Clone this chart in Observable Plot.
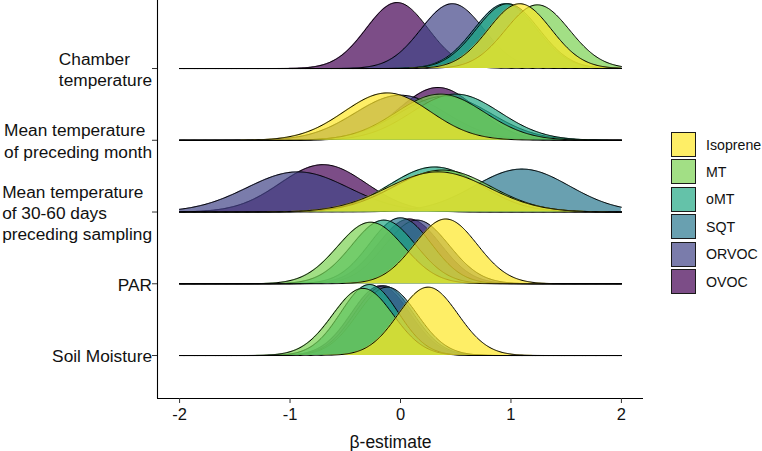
<!DOCTYPE html>
<html><head><meta charset="utf-8">
<script src="https://cdn.jsdelivr.net/npm/d3@7"></script>
<script src="https://cdn.jsdelivr.net/npm/@observablehq/plot@0.6"></script>
<style>
body{margin:0;background:#fff;}
#wrap{position:relative;width:762px;height:451px;font-family:"Liberation Sans",Arial,Helvetica,sans-serif;color:#000;}
#legend{position:absolute;left:671px;top:132px;}
.item{position:absolute;left:0;height:25px;display:flex;align-items:center;white-space:nowrap;}
.sw{width:25px;height:25px;border:1.5px solid #1a1a1a;box-sizing:border-box;}
.lb{margin-left:10px;font-size:14.2px;color:#111;}
</style></head>
<body><div id="wrap"></div>
<script>
// ---- data ----
const predictors = ["Chamber temperature", "Mean temperature of preceding month", "Mean temperature of 30-60 days preceding sampling", "PAR", "Soil Moisture"];
const predictorLabels = ["Chamber\ntemperature", "Mean temperature\nof preceding month", "Mean temperature\nof 30-60 days\npreceding sampling", "PAR", "Soil Moisture"];
const compounds = ["Isoprene", "MT", "oMT", "SQT", "ORVOC", "OVOC"];
const compoundColors = ["#FDE725", "#7AD151", "#22A884", "#2A788E", "#414487", "#440154"];
// posterior β-estimate (mean, sd) per predictor, in predictor order
const isopreneMean = [1.08, -0.12, 0.34, 0.41, 0.25];
const isopreneSd   = [0.285, 0.39, 0.46, 0.285, 0.27];
const mtMean       = [1.24, 0.36, 0.38, -0.27, -0.34];
const mtSd         = [0.29, 0.40, 0.44, 0.30, 0.275];
const omtMean      = [0.97, 0.50, 0.31, -0.15, -0.28];
const omtSd        = [0.285, 0.40, 0.41, 0.29, 0.26];
const sqtMean      = [0.95, 0.40, 1.10, 0.00, -0.12];
const sqtSd        = [0.285, 0.42, 0.43, 0.28, 0.27];
const orvocMean    = [0.47, 0.00, -0.93, 0.15, -0.15];
const orvocSd      = [0.285, 0.41, 0.46, 0.29, 0.265];
const ovocMean     = [-0.03, 0.34, -0.70, 0.08, -0.18];
const ovocSd       = [0.28, 0.35, 0.39, 0.285, 0.265];
const xTicks = [-2, -1, 0, 1, 2];
const xLabel = "β-estimate";

// ---- build table ----
const params = {
  Isoprene: [isopreneMean, isopreneSd], MT: [mtMean, mtSd], oMT: [omtMean, omtSd],
  SQT: [sqtMean, sqtSd], ORVOC: [orvocMean, orvocSd], OVOC: [ovocMean, ovocSd]
};
const rowPos = predictors.map((p, i) => predictors.length - i);
const grid = d3.range(-200, 201).map(k => k / 100);
const SCALE = 0.645; // rows per density unit
const table = [];
for (const c of compounds) {
  const [m, s] = params[c];
  predictors.forEach((p, i) => {
    for (const x of grid) {
      const dens = Math.exp(-0.5 * ((x - m[i]) / s[i]) ** 2) / (s[i] * Math.sqrt(2 * Math.PI));
      table.push({compound: c, predictor: p, row: rowPos[i], x, top: rowPos[i] + dens * SCALE});
    }
  });
}

const yDomain = [0.401, 5.948];
const xDomain = [-2.2, 2.2];
const marks = [];
for (const c of compounds.slice().reverse()) {
  const sub = table.filter(d => d.compound === c);
  marks.push(Plot.areaY(sub, {x: "x", y1: "row", y2: "top", z: "predictor", fill: "compound", fillOpacity: 0.7}));
  marks.push(Plot.lineY(sub, {x: "x", y: "top", z: "predictor", stroke: "#000", strokeWidth: 1}));
}
marks.push(Plot.ruleX([xDomain[0]], {stroke: "#000", strokeWidth: 1.1}));
marks.push(Plot.ruleY([yDomain[0]], {stroke: "#000", strokeWidth: 1.1}));
marks.push(Plot.axisY({ticks: rowPos, tickSize: 5, tickFormat: () => "", stroke: "#333"}));
marks.push(Plot.axisX({ticks: xTicks, tickSize: 5, tickPadding: 5, tickFormat: d => String(d), fontSize: 16.5, fill: "#111", stroke: "#333", label: null}));

const FS = 17.3;
const ctx = document.createElement("canvas").getContext("2d");
ctx.font = FS + 'px "Liberation Sans"';
predictorLabels.forEach((lab, i) => {
  const w = d3.max(lab.split("\n"), l => ctx.measureText(l).width);
  marks.push(Plot.text([i], {y: d => rowPos[d], text: d => predictorLabels[d], frameAnchor: "left", textAnchor: "start", lineAnchor: "middle", lineHeight: 1.22, fontSize: FS, fill: "#111", dx: -(w + 5.5)}));
});
marks.push(Plot.text([xLabel], {frameAnchor: "bottom", dy: 43.4, dx: -10, lineAnchor: "middle", fontSize: 17.5, fill: "#111"}));

const chart = Plot.plot({
  width: 762, height: 451,
  marginLeft: 157, marginRight: 119, marginTop: 0, marginBottom: 53,
  x: {domain: xDomain, axis: null},
  y: {domain: yDomain, axis: null},
  color: {domain: compounds, range: compoundColors},
  style: {fontFamily: '"Liberation Sans", Arial, sans-serif', background: "#fff", color: "#111"},
  marks
});
const wrap = document.getElementById("wrap");
wrap.appendChild(chart);

// legend
const leg = document.createElement("div");
leg.id = "legend";
compounds.forEach((c, i) => {
  const it = document.createElement("div");
  it.className = "item";
  it.style.top = (i * 27.4) + "px";
  const sw = document.createElement("div");
  sw.className = "sw";
  const col = d3.color(compoundColors[i]); col.opacity = 0.7;
  sw.style.background = col.formatRgb();
  const lb = document.createElement("span");
  lb.className = "lb";
  lb.textContent = c;
  it.appendChild(sw); it.appendChild(lb);
  leg.appendChild(it);
});
wrap.appendChild(leg);
</script>
</body></html>
